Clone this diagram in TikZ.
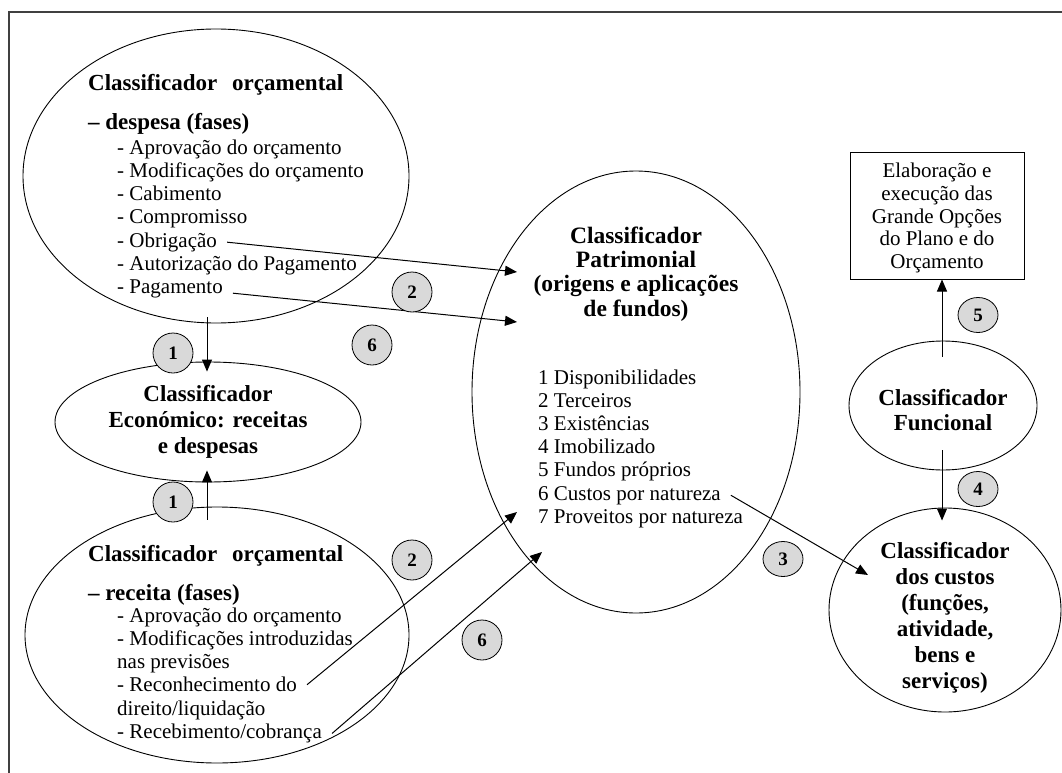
\documentclass[tikz,border=0pt]{standalone}
\usepackage{fontspec}
\setmainfont{Liberation Serif}
\usetikzlibrary{shapes.geometric,arrows.meta}
\begin{document}
\begin{tikzpicture}[x=1pt,y=-1pt]
\tikzset{
 frameline/.style={line width=1.4pt, black!75},
 ell/.style={draw, ellipse, line width=0.9pt, inner sep=0pt},
 hd/.style={anchor=base west, inner sep=0pt, font=\fontsize{23}{26}\selectfont\bfseries},
 itm/.style={anchor=base west, inner sep=0pt, font=\fontsize{21}{23.3}\selectfont},
 ctrb/.style={align=center, inner sep=0pt, font=\fontsize{23}{26}\selectfont\bfseries},
 ctrr/.style={align=center, inner sep=0pt, font=\fontsize{21}{22.8}\selectfont},
 badge/.style={circle, draw, line width=0.8pt, fill=gray!30, minimum size=40pt, inner sep=0pt, font=\fontsize{19}{19}\selectfont\bfseries},
 badgeo/.style={ellipse, draw, line width=0.8pt, fill=gray!30, minimum width=40pt, minimum height=35pt, inner sep=0pt, font=\fontsize{19}{19}\selectfont\bfseries},
 arr/.style={-{Triangle[length=12pt,width=10pt]}, line width=1pt},
}
\useasboundingbox (0,0) rectangle (1062,773);
\draw[frameline] (9,773) -- (9,12) -- (1062,12);

% despesa
\node[ell, minimum width=386pt, minimum height=294pt] (desp) at (216,176) {};
\node[hd] (dh1) at (88,91) {Classificador\hspace{0.4em} orçamental};
\node[hd] (dh2) at (88,130) {– despesa (fases)};
\node[itm] (d1) at (117,154) {- Aprovação do orçamento};
\node[itm] (d2) at (117,177.3) {- Modificações do orçamento};
\node[itm] (d3) at (117,200.6) {- Cabimento};
\node[itm] (d4) at (117,223.9) {- Compromisso};
\node[itm] (obr) at (117,247.2) {- Obrigação};
\node[itm] (d6) at (117,270.5) {- Autorização do Pagamento};
\node[itm] (pag) at (117,293.8) {- Pagamento};

% economico
\node[ell, minimum width=306pt, minimum height=120pt] (econ) at (208,422) {};
\node[ctrb] (econt) at (208,422) {Classificador\\Económico: receitas\\e despesas};

% receita
\node[ell, minimum width=384pt, minimum height=256pt] (rec) at (217,635) {};
\node[hd] (rh1) at (88,561) {Classificador\hspace{0.4em} orçamental};
\node[hd] (rh2) at (88,600) {– receita (fases)};
\node[itm] (r1) at (117,622) {- Aprovação do orçamento};
\node[itm] (r2) at (117,645.3) {- Modificações introduzidas};
\node[itm] (r3) at (117,668.6) {nas previsões};
\node[itm] (reco) at (117,691.9) {- Reconhecimento do};
\node[itm] (r5) at (117,715.2) {direito/liquidação};
\node[itm] (cob) at (117,738.5) {- Recebimento/cobrança};

% patrimonial
\node[ell, minimum width=328pt, minimum height=442pt] (pat) at (636,392) {};
\node[ctrb, font=\fontsize{23.5}{24.3}\selectfont\bfseries] (patt) at (636,274) {Classificador\\Patrimonial\\(origens e aplicações\\de fundos)};
\node[itm] (p1) at (538,384) {1 Disponibilidades};
\node[itm] (p2) at (538,407.2) {2 Terceiros};
\node[itm] (p3) at (538,430.4) {3 Existências};
\node[itm] (p4) at (538,453.6) {4 Imobilizado};
\node[itm] (p5) at (538,476.8) {5 Fundos próprios};
\node[itm] (p6) at (538,500) {6 Custos por natureza};
\node[itm] (p7) at (538,523.2) {7 Proveitos por natureza};

% box
\node[draw, line width=1pt, minimum width=174pt, minimum height=127pt, inner sep=0pt] (box) at (937,215.5) {};
\node[ctrr] (boxt) at (937,218) {Elaboração e\\execução das\\Grande Opções\\do Plano e do\\Orçamento};

% funcional
\node[ell, minimum width=188pt, minimum height=129pt] (func) at (943,405.5) {};
\node[ctrb, font=\fontsize{23}{25}\selectfont\bfseries] (funct) at (943,410) {Classificador\\Funcional};

% custos
\node[ell, minimum width=232pt, minimum height=204pt] (cust) at (945,610) {};
\node[ctrb] (custt) at (945,618) {Classificador\\dos custos\\(funções,\\atividade,\\bens e\\serviços)};

% arrows
\coordinate (tA) at (517,272);
\coordinate (tB) at (517,322);
\coordinate (tC) at (517,512);
\coordinate (tD) at (542,552);
\coordinate (tE) at (868,575);
\draw[arr] ([xshift=10pt]obr.east) -- (tA);
\draw[arr] ([xshift=10pt,yshift=-4pt]pag.east) -- (tB);
\draw[arr] ([xshift=10pt]reco.east) -- (tC);
\draw[arr] ([xshift=10pt]cob.east) -- (tD);
\draw[arr] ([xshift=10pt]p6.east) -- (tE);
\draw[arr] ([xshift=-9pt,yshift=6pt]desp.south) -- ([xshift=-1pt,yshift=-10pt]econ.north);
\draw[arr] ([xshift=-10pt,yshift=-13pt]rec.north) -- ([xshift=-1pt,yshift=12pt]econ.south);
\draw[arr] ([xshift=-1pt,yshift=-16pt]func.north) -- ([xshift=5pt]box.south);
\draw[arr] ([xshift=-1pt,yshift=20pt]func.south) -- ([xshift=-3pt,yshift=-13pt]cust.north);

% badges
\node[badge] (b1a) at (173,353) {1};
\node[badge] (b1b) at (173,502) {1};
\node[badge] (b2a) at (412,292) {2};
\node[badge] (b6a) at (372,345) {6};
\node[badge] (b2b) at (412,560) {2};
\node[badge] (b6b) at (482,640) {6};
\node[badgeo] (b3) at (783,559) {3};
\node[badgeo] (b4) at (978,489) {4};
\node[badgeo] (b5) at (978,315) {5};
\end{tikzpicture}
\end{document}
